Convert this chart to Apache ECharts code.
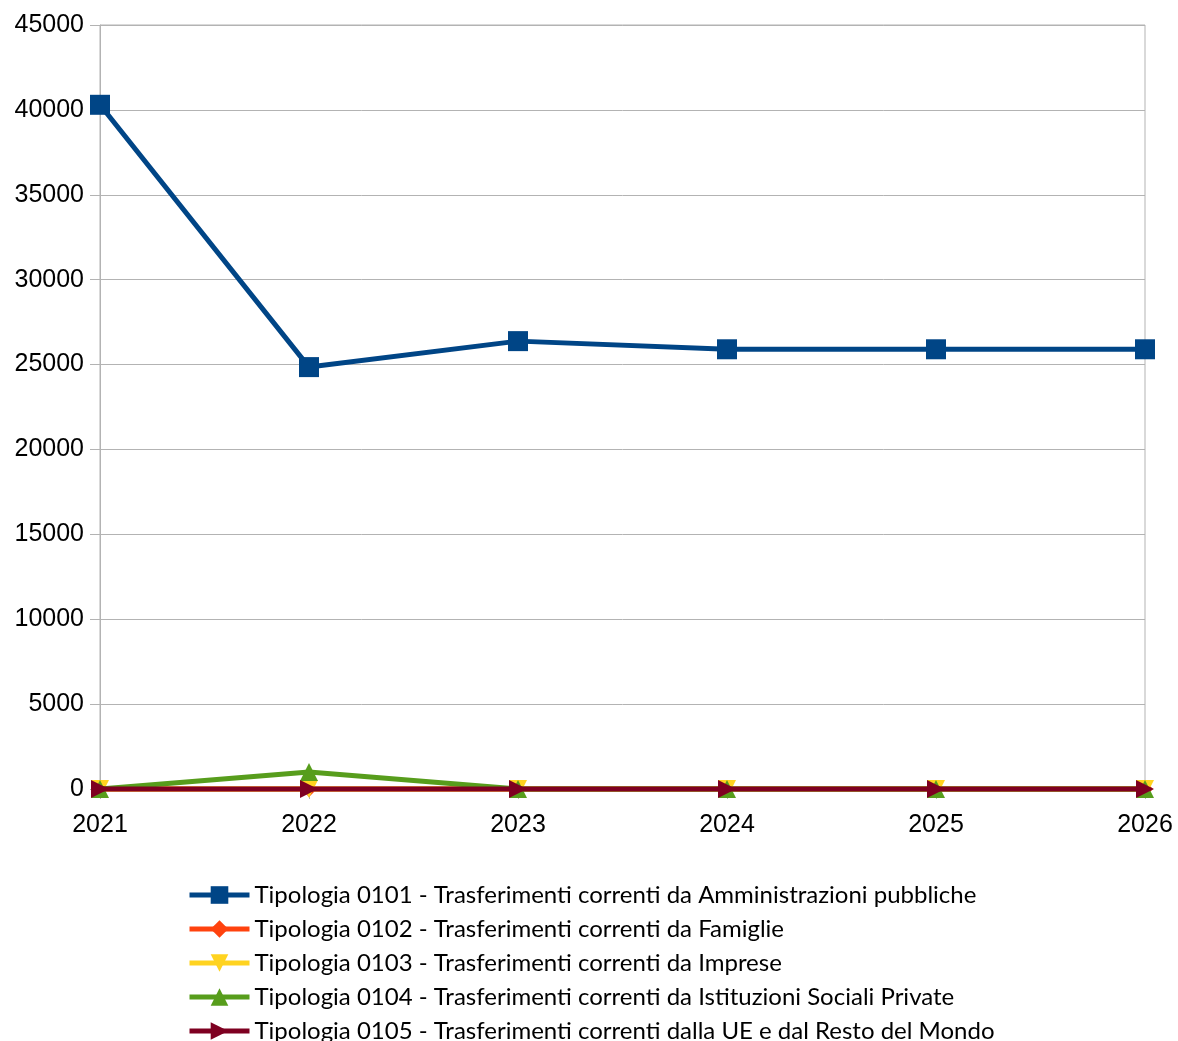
<!DOCTYPE html>
<html><head><meta charset="utf-8">
<script src="https://cdn.jsdelivr.net/npm/echarts@6/dist/echarts.min.js"></script>
<style>html,body{margin:0;padding:0;background:#fff}#c{width:1178px;height:1041px}</style>
</head><body><div id="c"></div>
<script>
const years = ['2021','2022','2023','2024','2025','2026'];
const names = [
  'Tipologia 0101 - Trasferimenti correnti da Amministrazioni pubbliche',
  'Tipologia 0102 - Trasferimenti correnti da Famiglie',
  'Tipologia 0103 - Trasferimenti correnti da Imprese',
  'Tipologia 0104 - Trasferimenti correnti da Istituzioni Sociali Private',
  'Tipologia 0105 - Trasferimenti correnti dalla UE e dal Resto del Mondo'
];
const t0101 = [40300, 24850, 26380, 25900, 25900, 25900];
const t0102 = [0, 0, 0, 0, 0, 0];
const t0103 = [0, 0, 0, 0, 0, 0];
const t0104 = [0, 1000, 0, 0, 0, 0];
const t0105 = [0, 0, 0, 0, 0, 0];
const yTicks = {min: 0, max: 45000, interval: 5000};

const colors = ['#004586', '#ff420e', '#ffd320', '#579d1c', '#7e0021'];
const symbols = ['rect', 'diamond', 'triangle', 'triangle', 'triangle'];
const rotates = [0, 0, 180, 0, -90];
const sizes = [20, 16, 18, 18, 18];
const datas = [t0101, t0102, t0103, t0104, t0105];

const chart = echarts.init(document.getElementById('c'), null, {renderer: 'canvas'});
chart.setOption({
  animation: false,
  color: colors,
  grid: {left: 100, right: 33, top: 25, bottom: 252, show: true, borderColor: '#b3b3b3', borderWidth: 1},
  legend: {
    orient: 'vertical', left: 182, top: 878, height: 175,
    itemWidth: 60, itemHeight: 22, itemGap: 10,
    lineStyle: {width: 5},
    textStyle: {fontFamily: 'Lato', fontSize: 24, color: '#000'},
    data: names
  },
  xAxis: {
    type: 'category', data: years, boundaryGap: false,
    axisLine: {lineStyle: {color: '#b3b3b3'}},
    axisTick: {show: true, length: 10, lineStyle: {color: '#b3b3b3'}},
    axisLabel: {color: '#000', fontFamily: 'Liberation Sans', fontSize: 25, margin: 24},
    splitLine: {show: false}
  },
  yAxis: {
    type: 'value', min: yTicks.min, max: yTicks.max, interval: yTicks.interval,
    axisLine: {show: true, lineStyle: {color: '#b3b3b3'}},
    axisTick: {show: true, length: 10, lineStyle: {color: '#b3b3b3'}},
    axisLabel: {color: '#000', fontFamily: 'Liberation Sans', fontSize: 25, margin: 16,
      formatter: v => String(v)},
    splitLine: {lineStyle: {color: '#b3b3b3'}}
  },
  series: names.map((n, i) => ({
    name: n, type: 'line', data: datas[i],
    symbol: symbols[i], symbolSize: sizes[i], symbolRotate: rotates[i],
    showAllSymbol: true, clip: false,
    lineStyle: {width: 5, color: colors[i]},
    itemStyle: {color: colors[i]},
    z: 2 + i
  }))
});
</script></body></html>
